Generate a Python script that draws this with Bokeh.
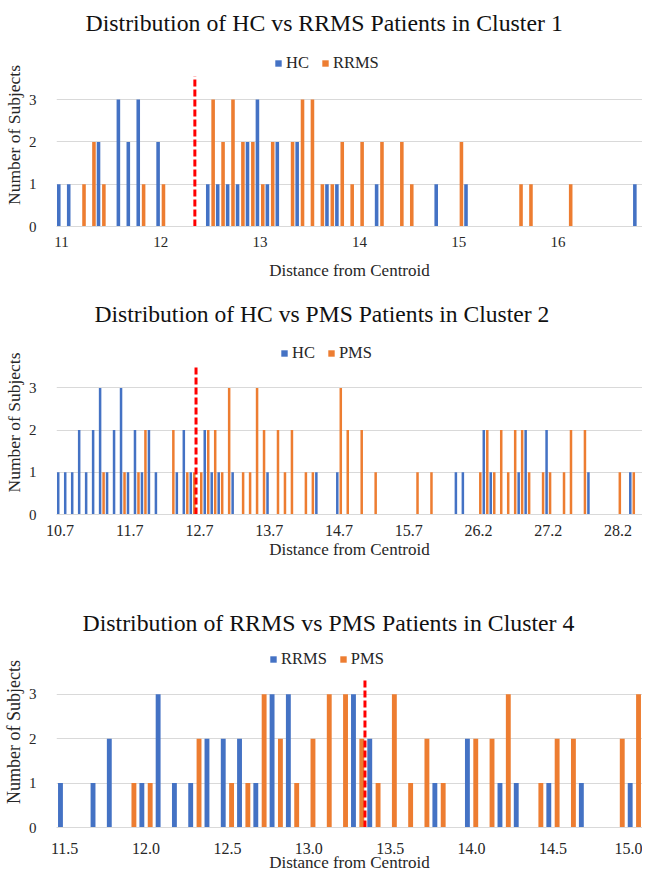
from bokeh.plotting import figure
from bokeh.layouts import column
from bokeh.models import Range1d, FixedTicker, ColumnDataSource, Legend, LegendItem
from bokeh.transform import dodge
from bokeh.embed import file_html
from bokeh.resources import INLINE

# ---------------- data ----------------
# Panel 1: HC vs RRMS, Cluster 1  (bins of 0.1 starting at 11.0)
p1_title = "Distribution of HC vs RRMS Patients in Cluster 1"
p1_series = ["HC", "RRMS"]
p1_bin_start = 11.0
p1_bin_step = 0.1
p1_hc = [1, 1, 0, 0, 2, 0, 3, 2, 3, 0,
         2, 0, 0, 0, 0, 1, 1, 1, 1, 2,
         3, 1, 2, 0, 2, 0, 0, 1, 1, 0,
         0, 0, 1, 0, 0, 0, 0, 0, 1, 0,
         0, 1, 0, 0, 0, 0, 0, 0, 0, 0,
         0, 0, 0, 0, 0, 0, 0, 0, 1]
p1_rrms = [0, 0, 1, 2, 1, 0, 0, 0, 1, 0,
           1, 0, 0, 0, 0, 3, 2, 3, 2, 2,
           1, 2, 0, 2, 3, 3, 1, 1, 2, 1,
           2, 0, 2, 0, 2, 1, 0, 0, 0, 0,
           2, 0, 0, 0, 0, 0, 1, 1, 0, 0,
           0, 1, 0, 0, 0, 0, 0, 0, 0]
p1_tick_every = 10
p1_tick_labels = ["11", "12", "13", "14", "15", "16"]
p1_threshold = 12.343
p1_threshold_top = 3.55

# Panel 2: HC vs PMS, Cluster 2
p2_title = "Distribution of HC vs PMS Patients in Cluster 2"
p2_series = ["HC", "PMS"]
p2_bin_start = 10.7
p2_bin_step = 0.1
p2_hc = [1, 1, 1, 2, 1, 2, 3, 1, 2, 3,
         1, 2, 1, 2, 1, 0, 0, 1, 2, 1,
         0, 2, 1, 1, 0, 1, 0, 0, 0, 0,
         1, 0, 0, 0, 0, 0, 0, 1, 0, 0,
         1, 0, 0, 0, 0, 0, 0, 0, 0, 0,
         0, 0, 0, 0, 0, 0, 0, 1, 1, 0,
         0, 2, 1, 0, 0, 0, 1, 2, 0, 0,
         2, 0, 0, 0, 0, 0, 1, 0, 0, 0,
         0, 0, 1, 0]
p2_pms = [0, 0, 0, 0, 0, 0, 1, 0, 0, 1,
          0, 1, 2, 0, 0, 0, 2, 0, 1, 1,
          1, 2, 2, 1, 3, 0, 1, 1, 3, 2,
          0, 2, 1, 2, 0, 1, 1, 0, 0, 0,
          3, 2, 0, 2, 0, 1, 0, 0, 0, 0,
          0, 1, 0, 1, 0, 0, 0, 0, 0, 0,
          1, 2, 1, 2, 1, 2, 2, 1, 0, 1,
          1, 0, 1, 2, 0, 2, 0, 0, 0, 0,
          1, 0, 1, 0]
p2_tick_every = 10
p2_tick_labels = ["10.7", "11.7", "12.7", "13.7", "14.7", "15.7", "26.2", "27.2", "28.2"]
p2_threshold = 12.65
p2_threshold_top = 3.55

# Panel 3: RRMS vs PMS, Cluster 4
p3_title = "Distribution of RRMS vs PMS Patients in Cluster 4"
p3_series = ["RRMS", "PMS"]
p3_bin_start = 11.5
p3_bin_step = 0.1
p3_rrms = [1, 0, 1, 2, 0, 1, 3, 1, 1, 2,
           2, 2, 1, 3, 3, 0, 0, 0, 3, 2,
           0, 0, 0, 1, 0, 2, 0, 1, 1, 0,
           1, 0, 1, 0, 0, 1]
p3_pms = [0, 0, 0, 0, 1, 1, 0, 0, 2, 0,
          1, 1, 3, 2, 1, 2, 3, 3, 2, 1,
          3, 1, 2, 1, 0, 2, 2, 3, 0, 1,
          2, 2, 0, 0, 2, 3]
p3_tick_every = 5
p3_tick_labels = ["11.5", "12.0", "12.5", "13.0", "13.5", "14.0", "14.5", "15.0"]
p3_threshold = 13.345
p3_threshold_top = 3.33

y_ticks = [0, 1, 2, 3]

# ---------------- styling ----------------
SERIF = "Liberation Serif"
BLUE = "#4472C4"
ORANGE = "#ED7D31"
GRID = "#D9D9D9"
TXT = "#262626"


def make_panel(title, series, a, b, bin_start, bin_step, tick_every, tick_labels,
               thr, thr_top, cfg):
    n = len(a)
    src = ColumnDataSource(dict(x=list(range(n)), a=a, b=b))
    p = figure(frame_width=586, frame_height=cfg["fh"],
               min_border_left=47, min_border_right=0, min_border_top=0,
               min_border_bottom=cfg["mbb"],
               x_range=Range1d(-0.5, n - 0.5), y_range=Range1d(0, cfg["yend"]),
               output_backend="svg", toolbar_location=None, tools="")
    p.outline_line_color = None
    p.background_fill_color = "white"
    p.border_fill_color = "white"

    off, w = cfg["off"], cfg["w"]
    r1 = p.vbar(x=dodge("x", -off), top="a", bottom=0, width=w, source=src,
                fill_color=BLUE, line_color=None)
    r2 = p.vbar(x=dodge("x", off), top="b", bottom=0, width=w, source=src,
                fill_color=ORANGE, line_color=None)

    thr_idx = (thr - bin_start) / bin_step
    p.segment(x0=[thr_idx], y0=[0], x1=[thr_idx], y1=[thr_top],
              line_color="#FF0000", line_width=3, line_dash="7 3")

    # title
    p.title.text = title
    p.title.text_font = SERIF
    p.title.text_font_size = cfg["tsize"]
    p.title.text_font_style = "normal"
    p.title.text_color = "#111111"
    p.title.align = "left"
    p.title.offset = cfg["toff"]
    p.title.standoff = cfg["tstand"]

    # legend
    leg = Legend(items=[LegendItem(label=series[0], renderers=[r1]),
                        LegendItem(label=series[1], renderers=[r2])],
                 location=cfg["lloc"], orientation="horizontal",
                 glyph_width=8, glyph_height=8, label_standoff=4, spacing=12,
                 padding=0, margin=0, border_line_color=None,
                 background_fill_alpha=0, label_text_font=SERIF,
                 label_text_font_size="16.5px", label_text_color=TXT,
                 label_height=16)
    p.add_layout(leg)

    # y axis
    yt = FixedTicker(ticks=y_ticks)
    p.yaxis.ticker = yt
    p.ygrid.ticker = yt
    p.ygrid.grid_line_color = GRID
    p.xgrid.visible = False
    p.yaxis.axis_line_color = None
    p.yaxis.major_tick_line_color = None
    p.yaxis.minor_tick_line_color = None
    p.yaxis.major_label_text_font = SERIF
    p.yaxis.major_label_text_font_size = "15px"
    p.yaxis.major_label_text_color = TXT
    p.yaxis.major_label_standoff = 14
    p.yaxis.axis_label = "Number of Subjects"
    p.yaxis.axis_label_text_font = SERIF
    p.yaxis.axis_label_text_font_size = cfg["ylab"]
    p.yaxis.axis_label_text_font_style = "normal"
    p.yaxis.axis_label_text_color = TXT
    p.yaxis.axis_label_standoff = 2

    # x axis
    ticks = [i * tick_every for i in range(len(tick_labels))]
    p.xaxis.ticker = FixedTicker(ticks=ticks)
    p.xaxis.major_label_overrides = {t: lab for t, lab in zip(ticks, tick_labels)}
    p.xaxis.axis_line_color = GRID
    p.xaxis.major_tick_line_color = None
    p.xaxis.minor_tick_line_color = None
    p.xaxis.major_tick_out = 0
    p.xaxis.major_label_text_font = SERIF
    p.xaxis.major_label_text_font_size = cfg["xtick"]
    p.xaxis.major_label_text_color = TXT
    p.xaxis.major_label_standoff = cfg["xstand"]
    p.xaxis.axis_label = "Distance from Centroid"
    p.xaxis.axis_label_text_font = SERIF
    p.xaxis.axis_label_text_font_size = "17px"
    p.xaxis.axis_label_text_font_style = "normal"
    p.xaxis.axis_label_text_color = TXT
    p.xaxis.axis_label_standoff = cfg["xlstand"]
    return p


cfg1 = dict(fh=183, mbb=69, yend=183 / 42.3, off=0.27, w=0.36, toff=29, tstand=15,
            tsize="23.8px", lloc=(218, 153), ylab="17.5px", xtick="15px",
            xstand=10, xlstand=11)
cfg2 = dict(fh=184, mbb=93, yend=184 / 42.2, off=0.25, w=0.36, toff=38, tstand=7,
            tsize="23.6px", lloc=(224, 151), ylab="17.5px", xtick="16px",
            xstand=10, xlstand=1)
cfg3 = dict(fh=191, mbb=36, yend=191 / 44.4, off=0.256, w=0.3, toff=26, tstand=1,
            tsize="23.8px", lloc=(213, 158), ylab="18px", xtick="16px",
            xstand=15, xlstand=-4)

f1 = make_panel(p1_title, p1_series, p1_hc, p1_rrms, p1_bin_start, p1_bin_step,
                p1_tick_every, p1_tick_labels, p1_threshold, p1_threshold_top, cfg1)
f2 = make_panel(p2_title, p2_series, p2_hc, p2_pms, p2_bin_start, p2_bin_step,
                p2_tick_every, p2_tick_labels, p2_threshold, p2_threshold_top, cfg2)
f3 = make_panel(p3_title, p3_series, p3_rrms, p3_pms, p3_bin_start, p3_bin_step,
                p3_tick_every, p3_tick_labels, p3_threshold, p3_threshold_top, cfg3)

layout = column(f1, f2, f3, spacing=0)
open("out.html", "w").write(file_html(layout, INLINE))
